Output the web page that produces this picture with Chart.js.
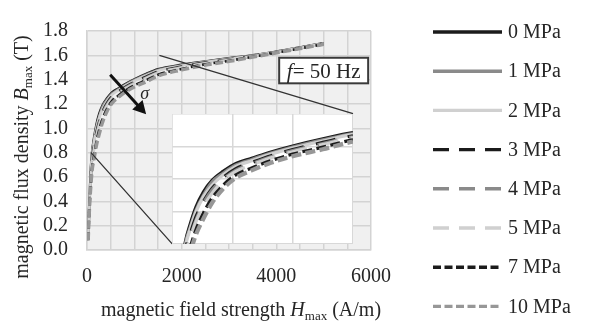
<!DOCTYPE html>
<html lang="en">
<head>
<meta charset="UTF-8">
<title>Magnetic flux density vs field strength</title>
<script src="https://cdn.jsdelivr.net/npm/chart.js@4"></script>
<style>
  body { margin: 0; background: #fff; }
  #wrap { position: relative; width: 591px; height: 325px; }
  #main { position: absolute; left: 0; top: 0; }
  #insetBox { position: absolute; }
</style>
</head>
<body>
<div id="wrap">
  <canvas id="main" width="591" height="325"></canvas>
  <div id="insetBox"><canvas id="inset"></canvas></div>
</div>
<script>
// H values (A/m) shared by all curves
const fieldH = [25, 50, 80, 110, 150, 200, 260, 330, 420, 530, 660, 820, 1000, 1250, 1500, 2000, 2500, 3000, 3500, 4000, 4500, 5000];
const stress = ['0 MPa', '1 MPa', '2 MPa', '3 MPa', '4 MPa', '5 MPa', '7 MPa', '10 MPa'];

// B values (T) for each stress level
const b0MPa  = [0.10, 0.38, 0.65, 0.81, 0.92, 1.03, 1.12, 1.19, 1.245, 1.295, 1.327, 1.366, 1.403, 1.447, 1.485, 1.522, 1.550, 1.575, 1.600, 1.630, 1.665, 1.700];
const b1MPa  = [0.10, 0.37, 0.64, 0.80, 0.90, 1.01, 1.10, 1.18, 1.234, 1.286, 1.320, 1.359, 1.397, 1.441, 1.480, 1.518, 1.547, 1.573, 1.599, 1.629, 1.664, 1.699];
const b2MPa  = [0.10, 0.37, 0.62, 0.78, 0.89, 1.00, 1.09, 1.16, 1.223, 1.277, 1.312, 1.353, 1.390, 1.434, 1.474, 1.514, 1.544, 1.570, 1.597, 1.628, 1.663, 1.698];
const b3MPa  = [0.09, 0.36, 0.60, 0.76, 0.86, 0.97, 1.06, 1.14, 1.207, 1.264, 1.301, 1.343, 1.381, 1.425, 1.466, 1.507, 1.540, 1.566, 1.595, 1.627, 1.662, 1.697];
const b4MPa  = [0.09, 0.35, 0.59, 0.74, 0.84, 0.95, 1.05, 1.13, 1.196, 1.255, 1.294, 1.336, 1.375, 1.418, 1.460, 1.503, 1.537, 1.564, 1.593, 1.626, 1.661, 1.696];
const b5MPa  = [0.09, 0.35, 0.58, 0.73, 0.83, 0.94, 1.03, 1.11, 1.186, 1.247, 1.286, 1.330, 1.368, 1.412, 1.455, 1.499, 1.534, 1.561, 1.592, 1.625, 1.660, 1.695];
const b7MPa  = [0.08, 0.33, 0.55, 0.69, 0.78, 0.89, 0.99, 1.08, 1.159, 1.225, 1.268, 1.313, 1.353, 1.396, 1.441, 1.488, 1.526, 1.555, 1.588, 1.622, 1.657, 1.692];
const b10MPa = [0.08, 0.32, 0.52, 0.66, 0.75, 0.86, 0.955, 1.05, 1.137, 1.207, 1.253, 1.300, 1.340, 1.383, 1.430, 1.480, 1.520, 1.550, 1.585, 1.620, 1.655, 1.690];
const seriesB = [b0MPa, b1MPa, b2MPa, b3MPa, b4MPa, b5MPa, b7MPa, b10MPa];

// axis ticks
const mainH = { min: 0, max: 6000, grid: 500, label: 2000 };
const mainB = { min: 0, max: 1.8, step: 0.2 };
// zoomed window shown in the inset
const zoomH = { min: 0, max: 1500, step: 500 };
const zoomB = { min: 0.8, max: 1.6, step: 0.2 };
// where the inset sits, in main-chart data units
const insetPlace = { hMin: 1800, hMax: 5620, bMin: 0.05, bMax: 1.12 };

const seriesStyle = [
  { color: '#1b1b1b', dash: [], width: 2.6 },
  { color: '#8a8a8a', dash: [], width: 2.6 },
  { color: '#d0d0d0', dash: [], width: 2.6 },
  { color: '#1b1b1b', dash: [16, 10], width: 2.6 },
  { color: '#8a8a8a', dash: [16, 10], width: 2.6 },
  { color: '#d0d0d0', dash: [16, 10], width: 2.6 },
  { color: '#1b1b1b', dash: [8, 3.5], width: 2.6 },
  { color: '#979797', dash: [8, 3.5], width: 3.4 }
];

const SERIF = "'Liberation Serif', 'Times New Roman', serif";
const TEXT = '#262626';
const GRID = '#d3d3d3';

function makeDatasets(scale) {
  return stress.map((label, i) => ({
    label,
    data: fieldH.map((h, k) => ({ x: h, y: seriesB[i][k] })),
    borderColor: seriesStyle[i].color,
    borderDash: seriesStyle[i].dash.map(d => d * scale),
    borderWidth: seriesStyle[i].width * scale,
    pointRadius: 0,
    fill: false,
    cubicInterpolationMode: 'monotone',
    order: stress.length - i
  }));
}

// draw a line of text made of plain / italic / subscript pieces, centred on x
function richText(ctx, parts, x, y, size) {
  const fontOf = p => p[1] === 'i' ? `italic ${size}px ${SERIF}`
    : p[1] === 'sub' ? `${Math.round(size * 0.65)}px ${SERIF}` : `${size}px ${SERIF}`;
  let total = 0;
  parts.forEach(p => { ctx.font = fontOf(p); total += ctx.measureText(p[0]).width; });
  let cx = x - total / 2;
  ctx.textAlign = 'left';
  parts.forEach(p => {
    ctx.font = fontOf(p);
    ctx.fillText(p[0], cx, y + (p[1] === 'sub' ? size * 0.22 : 0));
    cx += ctx.measureText(p[0]).width;
  });
}

const plotBackground = {
  id: 'plotBackground',
  beforeDraw(chart, args, opts) {
    const { ctx, chartArea: a } = chart;
    ctx.save();
    ctx.fillStyle = opts.color;
    ctx.fillRect(a.left, a.top, a.right - a.left, a.bottom - a.top);
    ctx.restore();
  }
};

const decorations = {
  id: 'decorations',
  afterDatasetsDraw(chart) {
    const { ctx, scales: { x, y } } = chart;
    ctx.save();
    // connectors from the zoomed region to the inset
    ctx.strokeStyle = '#333';
    ctx.lineWidth = 1.3;
    ctx.beginPath();
    ctx.moveTo(x.getPixelForValue(85), y.getPixelForValue(zoomB.min));
    ctx.lineTo(x.getPixelForValue(insetPlace.hMin), y.getPixelForValue(insetPlace.bMin));
    ctx.moveTo(x.getPixelForValue(1530), y.getPixelForValue(zoomB.max));
    ctx.lineTo(x.getPixelForValue(insetPlace.hMax), y.getPixelForValue(insetPlace.bMax));
    ctx.stroke();

    // sigma arrow
    const x1 = x.getPixelForValue(490), y1 = y.getPixelForValue(1.44);
    const x2 = x.getPixelForValue(1250), y2 = y.getPixelForValue(1.115);
    const ang = Math.atan2(y2 - y1, x2 - x1);
    const head = 13;
    ctx.strokeStyle = '#111';
    ctx.fillStyle = '#111';
    ctx.lineWidth = 3;
    ctx.beginPath();
    ctx.moveTo(x1, y1);
    ctx.lineTo(x2 - Math.cos(ang) * head * 0.8, y2 - Math.sin(ang) * head * 0.8);
    ctx.stroke();
    ctx.beginPath();
    ctx.moveTo(x2, y2);
    ctx.lineTo(x2 - Math.cos(ang) * head + Math.sin(ang) * 7, y2 - Math.sin(ang) * head - Math.cos(ang) * 7);
    ctx.lineTo(x2 - Math.cos(ang) * head - Math.sin(ang) * 7, y2 - Math.sin(ang) * head + Math.cos(ang) * 7);
    ctx.closePath();
    ctx.fill();
    ctx.fillStyle = TEXT;
    ctx.font = `italic 18px ${SERIF}`;
    ctx.textAlign = 'center';
    ctx.textBaseline = 'middle';
    ctx.fillText('σ', x.getPixelForValue(1220), y.getPixelForValue(1.28));

    // frequency box
    const bx = x.getPixelForValue(4060), by = y.getPixelForValue(1.58);
    const bw = x.getPixelForValue(5940) - bx, bh = y.getPixelForValue(1.37) - by;
    ctx.fillStyle = '#fff';
    ctx.fillRect(bx, by, bw, bh);
    ctx.strokeStyle = '#3a3a3a';
    ctx.lineWidth = 2;
    ctx.strokeRect(bx, by, bw, bh);
    ctx.fillStyle = TEXT;
    ctx.textBaseline = 'alphabetic';
    richText(ctx, [['f', 'i'], ['= 50 Hz', '']], bx + bw / 2, by + bh / 2 + 7.5, 21);
    ctx.restore();
  },
  afterDraw(chart) {
    const { ctx } = chart;
    ctx.save();
    ctx.fillStyle = TEXT;
    ctx.textBaseline = 'alphabetic';
    // axis titles
    richText(ctx, [['magnetic field strength ', ''], ['H', 'i'], ['max', 'sub'], [' (A/m)', '']], 241, 316, 20);
    ctx.translate(28, 157);
    ctx.rotate(-Math.PI / 2);
    richText(ctx, [['magnetic flux density ', ''], ['B', 'i'], ['max', 'sub'], [' (T)', '']], 0, 0, 20);
    ctx.restore();

    // legend
    ctx.save();
    chart.data.datasets.forEach((ds, i) => {
      const ly = 32 + i * 39.2;
      ctx.strokeStyle = ds.borderColor;
      ctx.lineWidth = 3.4;
      ctx.setLineDash(seriesStyle[i].dash);
      ctx.beginPath();
      ctx.moveTo(433, ly);
      ctx.lineTo(502, ly);
      ctx.stroke();
      ctx.setLineDash([]);
      ctx.fillStyle = TEXT;
      ctx.font = `20px ${SERIF}`;
      ctx.textAlign = 'left';
      ctx.textBaseline = 'middle';
      ctx.fillText(ds.label, 508, ly + 1);
    });
    ctx.restore();
  }
};

const main = new Chart(document.getElementById('main'), {
  type: 'line',
  data: { datasets: makeDatasets(1) },
  plugins: [plotBackground, decorations],
  options: {
    responsive: false,
    animation: false,
    events: [],
    layout: { padding: { left: 40, right: 220, top: 16, bottom: 35 } },
    plugins: {
      legend: { display: false },
      tooltip: { enabled: false },
      plotBackground: { color: '#f0f0f0' }
    },
    scales: {
      x: {
        type: 'linear',
        min: mainH.min,
        max: mainH.max,
        afterFit: s => { s.height = 40; },
        ticks: {
          stepSize: mainH.grid,
          autoSkip: false,
          maxRotation: 0,
          padding: 15,
          color: TEXT,
          font: { family: SERIF, size: 20 },
          callback: v => (v % mainH.label === 0 ? String(v) : '')
        },
        grid: { color: GRID, lineWidth: 1.5, drawTicks: false },
        border: { color: GRID, width: 1.5 }
      },
      y: {
        min: mainB.min,
        max: mainB.max,
        afterFit: s => { s.width = 47; },
        ticks: {
          stepSize: mainB.step,
          autoSkip: false,
          padding: 19,
          color: TEXT,
          font: { family: SERIF, size: 20 },
          callback: v => Number(v).toFixed(1)
        },
        grid: { color: GRID, lineWidth: 1.5, drawTicks: false },
        border: { color: GRID, width: 1.5 }
      }
    }
  }
});

// place the inset over the main plot using the main scales
const sx = main.scales.x, sy = main.scales.y;
const iLeft = Math.round(sx.getPixelForValue(insetPlace.hMin));
const iRight = Math.round(sx.getPixelForValue(insetPlace.hMax));
const iTop = Math.round(sy.getPixelForValue(insetPlace.bMax));
const iBottom = Math.round(sy.getPixelForValue(insetPlace.bMin));
const box = document.getElementById('insetBox');
box.style.left = iLeft + 'px';
box.style.top = iTop + 'px';
const insetCanvas = document.getElementById('inset');
insetCanvas.width = iRight - iLeft;
insetCanvas.height = iBottom - iTop;

const whiteCanvas = {
  id: 'whiteCanvas',
  beforeDraw(chart) {
    const { ctx, width, height } = chart;
    ctx.save();
    ctx.fillStyle = '#fff';
    ctx.fillRect(0, 0, width, height);
    ctx.restore();
  }
};

new Chart(insetCanvas, {
  type: 'line',
  data: { datasets: makeDatasets(1.25) },
  plugins: [whiteCanvas],
  options: {
    responsive: false,
    animation: false,
    events: [],
    layout: { padding: 0 },
    plugins: { legend: { display: false }, tooltip: { enabled: false } },
    scales: {
      x: {
        type: 'linear',
        min: zoomH.min,
        max: zoomH.max,
        ticks: { display: false, stepSize: zoomH.step },
        grid: { color: '#d8d8d8', lineWidth: 1.5, drawTicks: false },
        border: { color: '#d8d8d8', width: 1.5 }
      },
      y: {
        min: zoomB.min,
        max: zoomB.max,
        ticks: { display: false, stepSize: zoomB.step },
        grid: { color: '#d8d8d8', lineWidth: 1.5, drawTicks: false },
        border: { color: '#d8d8d8', width: 1.5 }
      }
    }
  }
});
</script>
</body>
</html>
